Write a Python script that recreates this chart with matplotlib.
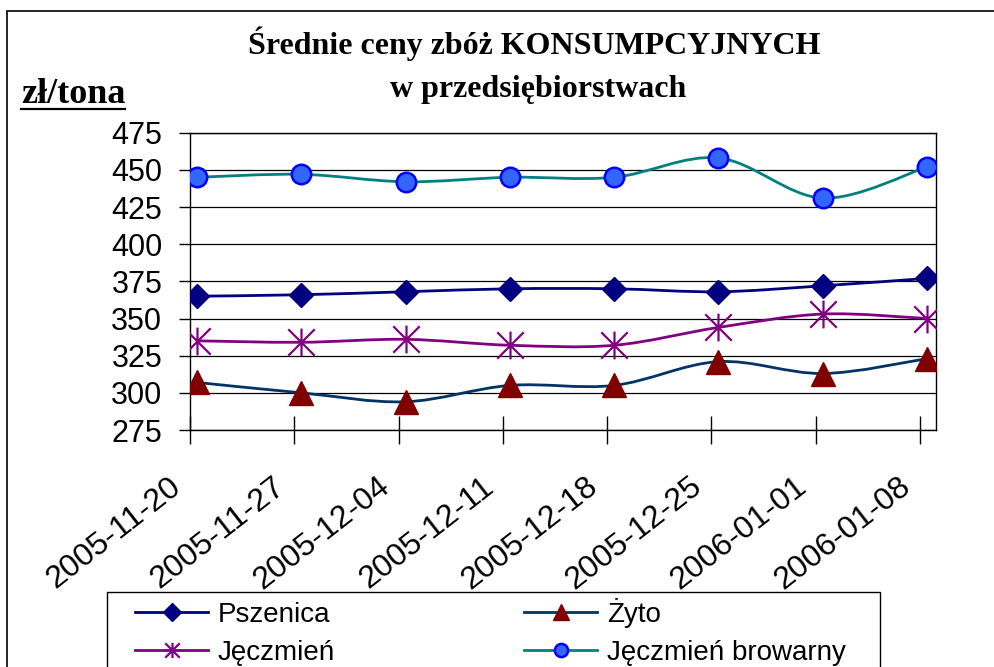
import matplotlib
matplotlib.use('Agg')
import matplotlib.pyplot as plt
import numpy as np
from matplotlib.path import Path
from matplotlib.patches import PathPatch, Rectangle
from matplotlib.lines import Line2D

# dane
dates = ['2005-11-20', '2005-11-27', '2005-12-04', '2005-12-11',
         '2005-12-18', '2005-12-25', '2006-01-01', '2006-01-08']
pszenica = [365, 366, 368, 370, 370, 368, 372, 377]
zyto = [307, 300, 294, 305, 305, 321, 313, 323]
jeczmien = [335, 334, 336, 332, 332, 344, 353, 350]
browarny = [445, 447, 442, 445, 445, 458, 431, 452]
y_ticks = [275, 300, 325, 350, 375, 400, 425, 450, 475]

# gwiazdka jak w Excelu: X z pionowa kreska
star = Path([(-1, -1), (1, 1), (-1, 1), (1, -1), (0, -1.05), (0, 1.05)],
            [Path.MOVETO, Path.LINETO, Path.MOVETO, Path.LINETO, Path.MOVETO, Path.LINETO])


def smooth_path(xs, ys):
    # wygladzona linia (bezier przez punkty), jak "smoothed line" w Excelu
    n = len(xs)
    verts = [(xs[0], ys[0])]
    codes = [Path.MOVETO]
    for i in range(n - 1):
        x0, y0 = xs[max(i - 1, 0)], ys[max(i - 1, 0)]
        x1, y1 = xs[i], ys[i]
        x2, y2 = xs[i + 1], ys[i + 1]
        x3, y3 = xs[min(i + 2, n - 1)], ys[min(i + 2, n - 1)]
        verts += [(x1 + (x2 - x0) / 6, y1 + (y2 - y0) / 6),
                  (x2 - (x3 - x1) / 6, y2 - (y3 - y1) / 6),
                  (x2, y2)]
        codes += [Path.CURVE4] * 3
    return Path(verts, codes)


series = [
    ('Pszenica', pszenica, '#000080', dict(marker='D', ms=12.5, mfc='#000080', mec='#000080', mew=1)),
    ('Jęczmień', jeczmien, '#800080', dict(marker=star, ms=20, mfc='none', mec='#800080', mew=1.6)),
    ('Żyto', zyto, '#003366', dict(marker='^', ms=17, mfc='#800000', mec='#800000', mew=1)),
    ('Jęczmień browarny', browarny, '#008080', dict(marker='o', ms=14, mfc='#3366FF', mec='#0000FF', mew=1.8)),
]
legend_ms = {'Pszenica': 9, 'Jęczmień': 11, 'Żyto': 12, 'Jęczmień browarny': 9.5}

fig = plt.figure(figsize=(9.95, 6.67), dpi=100)
ax = fig.add_axes([190 / 995, 237 / 667, 746 / 995, 297.3 / 667])

x = np.arange(len(dates))
handles = []
for name, vals, col, mk in series:
    ax.add_patch(PathPatch(smooth_path(x, vals), facecolor='none', edgecolor=col, lw=2, zorder=3))
for name, vals, col, mk in series:
    ax.plot(x, vals, linestyle='none', zorder=4, **mk)
    lm = dict(mk)
    lm['ms'] = legend_ms[name]
    handles.append(Line2D([0], [0], color=col, lw=2, **lm))

ax.set_yticks(y_ticks)
ax.set_yticklabels([str(v) for v in y_ticks], fontsize=22, family='Liberation Sans')
ax.yaxis.grid(True, color='black', lw=0.9)
ax.set_axisbelow(True)

# kreski osi X, podpisy osobno (przesuniete w lewo od kresek, jak w Excelu)
ax.set_xticks(x - 0.067)
ax.set_xlim(-0.067, 7.086)
ax.set_ylim(275, 475)
ax.tick_params(axis='y', direction='out', length=8, width=1, pad=12)
ax.tick_params(axis='x', direction='inout', length=20, width=1, labelbottom=False)
for i, d in enumerate(dates):
    ax.text(x[i] - 0.067 - 0.21, -0.14, d, transform=ax.get_xaxis_transform(),
            fontsize=23, family='Liberation Sans', rotation=38,
            ha='right', va='top', rotation_mode='anchor', clip_on=False)
for s in ax.spines.values():
    s.set_color('black')
    s.set_linewidth(1)

fig.text(0.537, 1 - 54 / 667, 'Średnie ceny zbóż KONSUMPCYJNYCH', ha='center', va='baseline',
         fontsize=23, fontweight='bold', family='Liberation Serif')
fig.text(0.541, 1 - 97 / 667, 'w przedsiębiorstwach', ha='center', va='baseline',
         fontsize=23, fontweight='bold', family='Liberation Serif')
unit = fig.text(21 / 995, 1 - 103 / 667, 'zł/tona', ha='left', va='baseline',
                fontsize=26, fontweight='bold', family='Liberation Serif')
fig.canvas.draw()
bb = unit.get_window_extent()
fig.add_artist(Line2D([bb.x0 / 995, bb.x1 / 995], [1 - 109 / 667] * 2, color='black', lw=1.6,
                      transform=fig.transFigure))

leg = fig.legend(handles, [s[0] for s in series], ncol=2, frameon=False,
                 loc='upper left', bbox_to_anchor=(135 / 995, 1 - 598 / 667),
                 borderpad=0, borderaxespad=0, handlelength=2.63, handletextpad=0.36,
                 columnspacing=6.8, labelspacing=0.42,
                 prop={'family': 'Liberation Sans', 'size': 20})

# ramka legendy i ramka calego wykresu
fig.add_artist(Rectangle((107 / 995, -0.2), 773 / 995, 0.2 + (667 - 592) / 667, transform=fig.transFigure,
                         facecolor='none', edgecolor='black', lw=1, clip_on=False))
fig.add_artist(Rectangle((7 / 995, -0.2), 1.2, 1.2 - 11 / 667, transform=fig.transFigure,
                         facecolor='none', edgecolor='black', lw=1.2, clip_on=False))

fig.savefig('out.png', dpi=100)
